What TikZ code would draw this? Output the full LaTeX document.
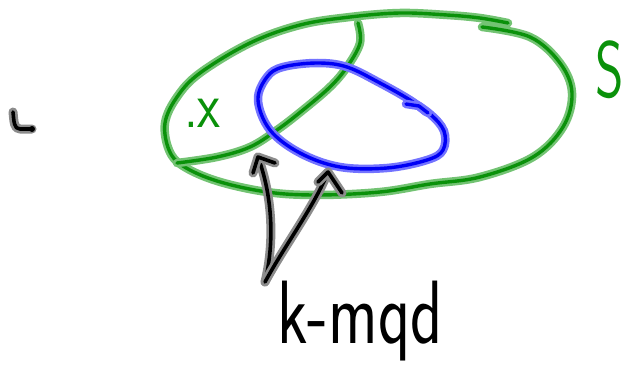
\documentclass[tikz,border=0pt]{standalone}
\usepackage{fontspec}
\definecolor{gcore}{RGB}{10,145,10}
\definecolor{ghalo}{RGB}{115,195,115}
\definecolor{bcore}{RGB}{0,0,245}
\definecolor{bhalo}{RGB}{115,115,255}
\definecolor{kcore}{RGB}{0,0,0}
\definecolor{khalo}{RGB}{140,140,140}
\tikzset{
  base/.style={line cap=round, line join=round},
  gstroke/.style={base, draw=gcore, line width=3.4pt, preaction={draw=ghalo, line width=8.5pt, line cap=round, line join=round}},
  bstroke/.style={base, draw=bcore, line width=3.4pt, preaction={draw=bhalo, line width=8.5pt, line cap=round, line join=round}},
  kstroke/.style={base, draw=kcore, line width=3.6pt, preaction={draw=khalo, line width=9pt, line cap=round, line join=round}},
  hand/.style={inner sep=0pt, font=\sffamily}
}
\begin{document}
\begin{tikzpicture}[x=1pt,y=-1pt]
\useasboundingbox (0,0) rectangle (629,369);
% big green set S
\draw[gstroke] plot[smooth, tension=0.6] coordinates {(482,27) (530,37) (560,63) (572,93) (563,127) (533,157) (480,177) (430,184) (380,192) (317,195) (267,192) (217,181) (183,166) (169,150) (165,123) (177,97) (200,73) (250,43) (300,25) (350,17) (400,13) (447,15) (480,18) (508,23)};
% inner green curve
\draw[gstroke] plot[smooth, tension=0.6] coordinates {(358,23) (360,43) (347,67) (330,87) (303,110) (277,130) (250,147) (217,157) (177,163)};
% blue set
\draw[bstroke] plot[smooth, tension=0.6] coordinates {(408,99) (430,114) (444,131) (443,150) (427,160) (387,168) (340,167) (300,153) (270,130) (258,100) (267,77) (283,67) (317,63) (347,67) (380,83) (410,100) (426,112)};
\draw[bstroke] (406,104) -- (419,106) -- (428,113);
% labels
\node[hand, text=gcore, anchor=base west, xscale=0.8] (x) at (184,127) {\fontsize{66}{66}\selectfont .x};
\node[hand, text=gcore, anchor=base west, xscale=0.68] (S) at (595,97) {\fontsize{80}{80}\selectfont S};
\node[hand, text=kcore, anchor=base west, xscale=0.74] (kmqd) at (277,343) {\fontsize{90}{90}\selectfont k-mqd};
% arrows
\coordinate (a0) at (265,282);
\coordinate (t1) at (258,157);
\coordinate (t2) at (328,172);
\draw[kstroke] (a0) .. controls (275,240) and (272,195) .. (t1);
\draw[kstroke] (253,173) -- (t1) -- (275,163);
\draw[kstroke] (a0) .. controls (285,245) and (315,205) .. (t2);
\draw[kstroke] (318,182) -- (t2) -- (342,193);
% small mark at left
\draw[kstroke] (13,112) .. controls (14,122) and (14,129) .. (20,129) -- (32,129);
\fill[kcore] (32,129) circle (3pt);
\end{tikzpicture}
\end{document}
